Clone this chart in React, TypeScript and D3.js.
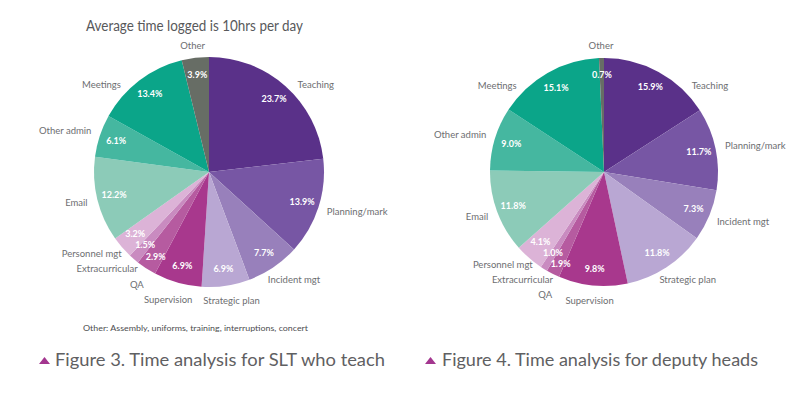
import React, { useEffect, useRef } from "react";
import * as d3 from "d3";

const categories = [
  "Teaching",
  "Planning/mark",
  "Incident mgt",
  "Strategic plan",
  "Supervision",
  "QA",
  "Extracurricular",
  "Personnel mgt",
  "Email",
  "Other admin",
  "Meetings",
  "Other",
];

const sltValues = [23.7, 13.9, 7.7, 6.9, 6.9, 2.9, 1.5, 3.2, 12.2, 6.1, 13.4, 3.9];
const deputyValues = [15.9, 11.7, 7.3, 11.8, 9.8, 1.9, 1.0, 4.1, 11.8, 9.0, 15.1, 0.7];

const sliceColors = [
  "#5a3189",
  "#7756a4",
  "#9880bb",
  "#b9a7d3",
  "#a8388d",
  "#b65ba0",
  "#c98bc0",
  "#dcb3d7",
  "#8ccbb8",
  "#45b7a0",
  "#0ba589",
  "#676d65",
];

const titleText = "Average time logged is 10hrs per day";
const footnoteText = "Other: Assembly, uniforms, training, interruptions, concert";
const caption1 = "Figure 3. Time analysis for SLT who teach";
const caption2 = "Figure 4. Time analysis for deputy heads";

const FONT = "Lato, 'Open Sans', sans-serif";
const LABEL_COLOR = "#6d6e71";

type Box = { x: number; y: number; w: number; h: number; el: any };

function relax(boxes: Box[]) {
  for (let it = 0; it < 80; it++) {
    for (let i = 0; i < boxes.length; i++) {
      for (let j = i + 1; j < boxes.length; j++) {
        const a = boxes[i];
        const b = boxes[j];
        const ox = (a.w + b.w) / 2 - Math.abs(a.x - b.x);
        const oy = (a.h + b.h) / 2 - Math.abs(a.y - b.y);
        if (ox > 0 && oy > 0) {
          const push = oy / 2 + 0.1;
          if (a.y <= b.y) {
            a.y -= push;
            b.y += push;
          } else {
            a.y += push;
            b.y -= push;
          }
        }
      }
    }
  }
}

function drawPie(
  g: d3.Selection<SVGGElement, unknown, null, undefined>,
  values: number[],
  cx: number,
  cy: number,
  r: number
) {
  const data = categories.map((c, i) => ({ name: c, value: values[i], color: sliceColors[i] }));
  const pie = d3
    .pie<any>()
    .value((d) => d.value)
    .sort(null)
    .startAngle(0)
    .endAngle(2 * Math.PI);
  const arcs = pie(data);
  const arc = d3.arc<any>().innerRadius(0).outerRadius(r);

  const root = g.append("g").attr("transform", `translate(${cx},${cy})`);
  root
    .selectAll("path")
    .data(arcs)
    .join("path")
    .attr("d", arc as any)
    .attr("fill", (d: any) => d.data.color);

  // inside percentage labels
  const inR = r * 0.85;
  const fs = 9;
  const boxes: Box[] = [];
  arcs.forEach((a: any) => {
    const mid = (a.startAngle + a.endAngle) / 2;
    const x = inR * Math.sin(mid);
    const y = -inR * Math.cos(mid);
    const t = root
      .append("text")
      .attr("text-anchor", "middle")
      .attr("font-family", FONT)
      .attr("font-size", fs)
      .attr("font-weight", 700)
      .attr("fill", "#ffffff")
      .text(`${a.data.value.toFixed(1)}%`);
    const w = (t.node() as SVGTextElement).getComputedTextLength();
    boxes.push({ x, y, w, h: 11, el: t });
  });
  relax(boxes);
  boxes.forEach((b) => b.el.attr("x", b.x).attr("y", b.y + fs * 0.35));

  // outside category labels
  const outR = r * 1.09;
  const ofs = 9.5;
  const oboxes: Box[] = [];
  arcs.forEach((a: any) => {
    let mid = (a.startAngle + a.endAngle) / 2;
    const deg = (mid * 180) / Math.PI;
    const lim = 48;
    if (deg > 10 && deg < lim) mid = (lim * Math.PI) / 180;
    if (deg < 350 && deg > 360 - lim) mid = ((360 - lim) * Math.PI) / 180;
    const s = Math.sin(mid);
    const c = Math.cos(mid);
    const px = outR * s;
    const py = -outR * c;
    const t = root
      .append("text")
      .attr("text-anchor", "middle")
      .attr("font-family", FONT)
      .attr("font-size", ofs)
      .attr("fill", LABEL_COLOR)
      .text(a.data.name);
    const w = (t.node() as SVGTextElement).getComputedTextLength();
    const h = 10;
    oboxes.push({ x: px + (s * w) / 2, y: py - (c * h) / 2 + (c > 0.9 ? 3 : 0), w: w + 2, h: 15, el: t });
  });
  relax(oboxes);
  oboxes.forEach((b) => b.el.attr("x", b.x).attr("y", b.y + ofs * 0.35));
}

export default function App() {
  const ref = useRef<SVGSVGElement | null>(null);

  useEffect(() => {
    const svg = d3.select(ref.current as SVGSVGElement);
    svg.selectAll("*").remove();
    const g = svg.append("g") as any;

    g.append("rect").attr("width", 800).attr("height", 394).attr("fill", "#ffffff");

    g.append("text")
      .attr("x", 86)
      .attr("y", 31)
      .attr("font-family", FONT)
      .attr("font-size", 15.5)
      .attr("fill", "#58595b")
      .attr("textLength", 217)
      .attr("lengthAdjust", "spacingAndGlyphs")
      .text(titleText);

    drawPie(g, sltValues, 209, 172, 115);
    drawPie(g, deputyValues, 604, 172, 114);

    g.append("text")
      .attr("x", 83)
      .attr("y", 331)
      .attr("font-family", FONT)
      .attr("font-size", 8)
      .attr("fill", "#4d4d4f")
      .attr("textLength", 225)
      .attr("lengthAdjust", "spacingAndGlyphs")
      .text(footnoteText);

    const caps = [
      { text: caption1, tx: 39, x: 55, len: 330 },
      { text: caption2, tx: 425, x: 442, len: 316 },
    ];
    caps.forEach((cp) => {
      g.append("path")
        .attr("d", `M${cp.tx},364 L${cp.tx + 11},364 L${cp.tx + 5.5},357 Z`)
        .attr("fill", "#a3368f");
      g.append("text")
        .attr("x", cp.x)
        .attr("y", 366)
        .attr("font-family", FONT)
        .attr("font-size", 18)
        .attr("fill", "#5f6062")
        .attr("textLength", cp.len)
        .attr("lengthAdjust", "spacingAndGlyphs")
        .text(cp.text);
    });
  }, []);

  return (
    <svg
      ref={ref}
      width={800}
      height={394}
      style={{ position: "absolute", left: 0, top: 0, display: "block" }}
    />
  );
}
